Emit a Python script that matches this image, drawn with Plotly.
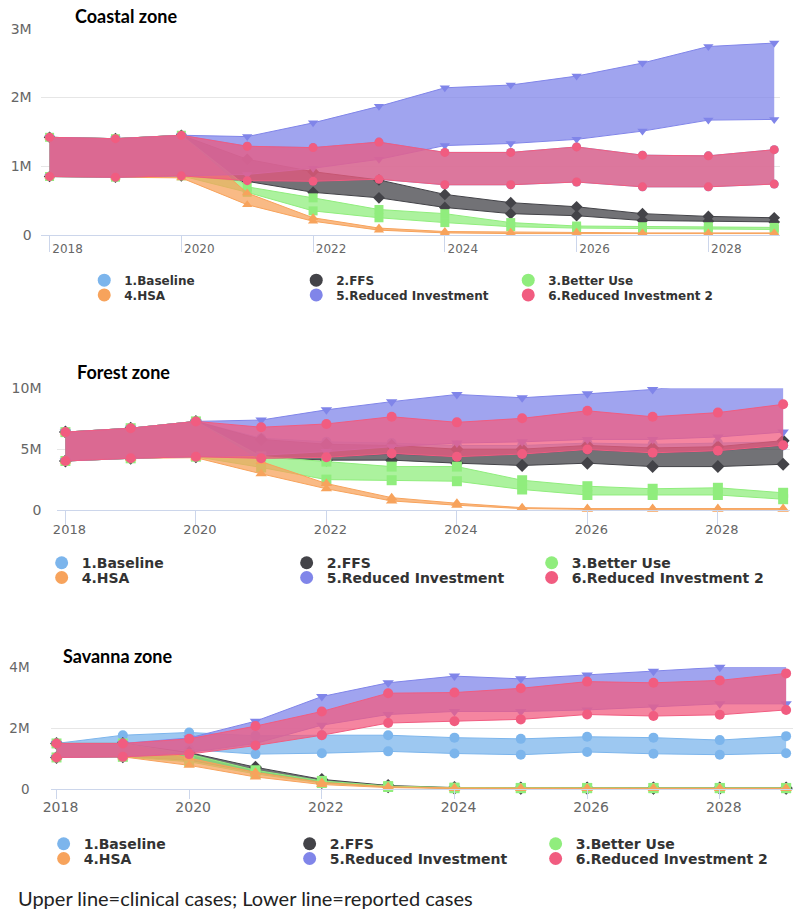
import plotly.graph_objects as go

# ---------------- data (values in millions of cases) ----------------
years = list(range(2018, 2030))
scenarios = ["1.Baseline", "2.FFS", "3.Better Use", "4.HSA",
             "5.Reduced Investment", "6.Reduced Investment 2"]
colors = ["#7cb5ec", "#434348", "#90ed7d", "#f7a35c", "#8085e9", "#f15c80"]
symbols = ["circle", "diamond", "square", "triangle-up", "triangle-down", "circle"]
zone_titles = ["Coastal zone", "Forest zone", "Savanna zone"]
x_tick_years = [2018, 2020, 2022, 2024, 2026, 2028]
x_tick_labels = ["2018", "2020", "2022", "2024", "2026", "2028"]
footer_text = "Upper line=clinical cases; Lower line=reported cases"

# Coastal zone
coastal_baseline_upper = [1.42, 1.40, 1.45, 1.29, 1.27, 1.35, 1.20, 1.20, 1.28, 1.16, 1.15, 1.24]
coastal_baseline_lower = [0.85, 0.84, 0.86, 0.79, 0.78, 0.81, 0.73, 0.73, 0.77, 0.70, 0.70, 0.74]
coastal_ffs_upper = [1.42, 1.40, 1.45, 1.10, 0.92, 0.80, 0.59, 0.47, 0.41, 0.31, 0.27, 0.25]
coastal_ffs_lower = [0.85, 0.84, 0.86, 0.78, 0.62, 0.54, 0.40, 0.31, 0.28, 0.21, 0.20, 0.19]
coastal_better_upper = [1.42, 1.40, 1.45, 0.70, 0.54, 0.37, 0.31, 0.18, 0.13, 0.12, 0.12, 0.11]
coastal_better_lower = [0.85, 0.84, 0.86, 0.62, 0.35, 0.25, 0.18, 0.12, 0.10, 0.09, 0.09, 0.08]
coastal_hsa_upper = [1.42, 1.40, 1.45, 0.61, 0.25, 0.10, 0.05, 0.04, 0.04, 0.03, 0.03, 0.03]
coastal_hsa_lower = [0.85, 0.84, 0.83, 0.44, 0.20, 0.07, 0.03, 0.02, 0.02, 0.02, 0.02, 0.02]
coastal_ri_upper = [1.42, 1.40, 1.45, 1.43, 1.63, 1.87, 2.14, 2.18, 2.31, 2.50, 2.74, 2.79]
coastal_ri_lower = [0.85, 0.84, 0.86, 0.88, 0.97, 1.10, 1.30, 1.33, 1.39, 1.51, 1.67, 1.68]
coastal_ri2_upper = [1.42, 1.40, 1.45, 1.29, 1.27, 1.35, 1.20, 1.20, 1.28, 1.16, 1.15, 1.24]
coastal_ri2_lower = [0.85, 0.84, 0.86, 0.79, 0.78, 0.81, 0.73, 0.73, 0.77, 0.70, 0.70, 0.74]

# Forest zone
forest_baseline_upper = [6.40, 6.72, 7.28, 5.90, 5.60, 5.50, 5.30, 5.30, 5.50, 5.40, 5.50, 5.60]
forest_baseline_lower = [4.03, 4.25, 4.38, 4.30, 4.35, 4.60, 4.40, 4.60, 4.95, 4.70, 4.85, 5.30]
forest_ffs_upper = [6.40, 6.72, 7.28, 5.80, 5.40, 5.30, 5.00, 5.00, 5.30, 5.10, 5.20, 5.70]
forest_ffs_lower = [4.03, 4.25, 4.38, 4.30, 4.10, 4.10, 3.85, 3.66, 3.85, 3.57, 3.57, 3.76]
forest_better_upper = [6.40, 6.72, 7.28, 4.40, 3.98, 3.57, 3.57, 2.45, 1.96, 1.75, 1.83, 1.42]
forest_better_lower = [4.03, 4.25, 4.38, 3.50, 2.50, 2.45, 2.37, 1.69, 1.24, 1.24, 1.24, 0.89]
forest_hsa_upper = [6.40, 6.72, 7.28, 3.98, 2.18, 1.02, 0.56, 0.20, 0.12, 0.12, 0.12, 0.12]
forest_hsa_lower = [4.03, 4.25, 4.30, 2.98, 1.75, 0.75, 0.40, 0.12, 0.06, 0.06, 0.06, 0.06]
forest_ri_upper = [6.40, 6.72, 7.28, 7.39, 8.23, 8.90, 9.49, 9.22, 9.54, 9.90, 10.48, 10.30]
forest_ri_lower = [4.03, 4.25, 4.38, 4.50, 4.80, 5.20, 5.50, 5.60, 5.80, 5.80, 6.00, 6.40]
forest_ri2_upper = [6.40, 6.72, 7.28, 6.80, 7.07, 7.66, 7.20, 7.53, 8.15, 7.66, 8.00, 8.68]
forest_ri2_lower = [4.03, 4.25, 4.38, 4.25, 4.33, 4.65, 4.38, 4.60, 4.97, 4.70, 4.87, 5.32]

# Savanna zone
savanna_baseline_upper = [1.50, 1.77, 1.86, 1.75, 1.77, 1.77, 1.69, 1.65, 1.72, 1.69, 1.61, 1.74]
savanna_baseline_lower = [1.04, 1.20, 1.30, 1.15, 1.18, 1.24, 1.17, 1.13, 1.22, 1.16, 1.13, 1.18]
savanna_ffs_upper = [1.50, 1.50, 1.20, 0.72, 0.32, 0.12, 0.05, 0.04, 0.04, 0.04, 0.04, 0.04]
savanna_ffs_lower = [1.04, 1.06, 0.95, 0.55, 0.22, 0.08, 0.03, 0.03, 0.03, 0.03, 0.03, 0.03]
savanna_better_upper = [1.50, 1.50, 1.15, 0.62, 0.27, 0.10, 0.05, 0.04, 0.04, 0.04, 0.04, 0.04]
savanna_better_lower = [1.04, 1.06, 0.90, 0.50, 0.20, 0.07, 0.03, 0.03, 0.03, 0.03, 0.03, 0.03]
savanna_hsa_upper = [1.50, 1.50, 1.02, 0.55, 0.22, 0.08, 0.04, 0.03, 0.03, 0.03, 0.03, 0.03]
savanna_hsa_lower = [1.04, 1.06, 0.78, 0.40, 0.15, 0.05, 0.02, 0.02, 0.02, 0.02, 0.02, 0.02]
savanna_ri_upper = [1.50, 1.50, 1.68, 2.23, 3.04, 3.49, 3.71, 3.62, 3.75, 3.87, 4.00, 4.01]
savanna_ri_lower = [1.04, 1.06, 1.20, 1.50, 2.10, 2.45, 2.55, 2.55, 2.60, 2.70, 2.80, 2.80]
savanna_ri2_upper = [1.50, 1.50, 1.65, 2.07, 2.55, 3.15, 3.17, 3.31, 3.53, 3.49, 3.57, 3.80]
savanna_ri2_lower = [1.04, 1.06, 1.15, 1.43, 1.77, 2.17, 2.23, 2.29, 2.45, 2.40, 2.44, 2.60]

coastal = [(coastal_baseline_upper, coastal_baseline_lower), (coastal_ffs_upper, coastal_ffs_lower),
           (coastal_better_upper, coastal_better_lower), (coastal_hsa_upper, coastal_hsa_lower),
           (coastal_ri_upper, coastal_ri_lower), (coastal_ri2_upper, coastal_ri2_lower)]
forest = [(forest_baseline_upper, forest_baseline_lower), (forest_ffs_upper, forest_ffs_lower),
          (forest_better_upper, forest_better_lower), (forest_hsa_upper, forest_hsa_lower),
          (forest_ri_upper, forest_ri_lower), (forest_ri2_upper, forest_ri2_lower)]
savanna = [(savanna_baseline_upper, savanna_baseline_lower), (savanna_ffs_upper, savanna_ffs_lower),
           (savanna_better_upper, savanna_better_lower), (savanna_hsa_upper, savanna_hsa_lower),
           (savanna_ri_upper, savanna_ri_lower), (savanna_ri2_upper, savanna_ri2_lower)]
zones = [coastal, forest, savanna]

# ---------------- layout geometry (page pixels) ----------------
W, H = 797, 917


def fx(px):
    return min(max(px / W, 0.0), 1.0)


def fy(py):
    return min(max(1 - py / H, 0.0), 1.0)


panels = [
    dict(l=33, r=780, t=21, b=231, x0=42, x1=774, ymax=3e6, dtick=1e6, fs=12, yfs=14,
         ticklen=16, xstand=-13, shift=18, ystand=8, title_x=66, title_y=8, title_fs=18,
         leg_x=[93, 305, 517], leg_y=[277, 292], leg_fs=12, ms=9),
    dict(l=50, r=790, t=387, b=511, x0=58, x1=783, ymax=1e7, dtick=5e6, fs=13, yfs=14,
         ticklen=14, xstand=-7, shift=4, ystand=15, title_x=68, title_y=370, title_fs=18,
         leg_x=[50, 295, 539], leg_y=[565, 580], leg_fs=14, ms=10),
    dict(l=43, r=793, t=671, b=795, x0=49, x1=786, ymax=4e6, dtick=2e6, fs=14, yfs=13.5,
         ticklen=9, xstand=-4, shift=4, ystand=20, title_x=54, title_y=659, title_fs=18,
         leg_x=[52, 298, 541], leg_y=[851, 866], leg_fs=14, ms=10),
]


def rgba(h, a):
    h = h.lstrip("#")
    return "rgba(%d,%d,%d,%s)" % (int(h[0:2], 16), int(h[2:4], 16), int(h[4:6], 16), a)


fig = go.Figure()
layout = dict(width=W, height=H, margin=dict(l=0, r=0, t=0, b=0),
              paper_bgcolor="white", plot_bgcolor="white", showlegend=True,
              annotations=[])

legend_idx = 0
for p, (zone, P) in enumerate(zip(zones, panels)):
    ax = "" if p == 0 else str(p + 1)
    xref, yref = "x" + ax, "y" + ax
    lg_names = []
    for r in range(2):
        legend_idx += 1
        lg_names.append("legend" if legend_idx == 1 else "legend%d" % legend_idx)
    for i, (upper, lower) in enumerate(zone):
        lg = lg_names[0] if i < 3 else lg_names[1]
        fig.add_trace(go.Scatter(x=[None], y=[None], mode="markers", name=scenarios[i],
                                 marker=dict(symbol="circle", size=13, color=colors[i]),
                                 legend=lg, showlegend=True, xaxis=xref, yaxis=yref,
                                 hoverinfo="skip"))
        fig.add_trace(go.Scatter(x=years, y=[v * 1e6 for v in lower], mode="lines+markers",
                                 line=dict(color=colors[i], width=1),
                                 marker=dict(symbol=symbols[i], size=P["ms"], color=colors[i]),
                                 showlegend=False, xaxis=xref, yaxis=yref, cliponaxis=False,
                                 name=scenarios[i]))
        fig.add_trace(go.Scatter(x=years, y=[v * 1e6 for v in upper], mode="lines+markers",
                                 line=dict(color=colors[i], width=1),
                                 marker=dict(symbol=symbols[i], size=P["ms"], color=colors[i]),
                                 fill="tonexty", fillcolor=rgba(colors[i], 0.75),
                                 showlegend=False, xaxis=xref, yaxis=yref, cliponaxis=False,
                                 name=scenarios[i]))
    ppy = (P["x1"] - P["x0"]) / 11.0
    xr = [2018 - (P["x0"] - P["l"]) / ppy, 2029 + (P["r"] - P["x1"]) / ppy]
    layout["xaxis" + ax] = dict(
        domain=[fx(P["l"]), fx(P["r"])], range=xr, anchor=yref,
        tickvals=x_tick_years, ticktext=x_tick_labels,
        ticks="outside", ticklen=P["ticklen"], tickcolor="#ccd6eb", tickwidth=1,
        showline=True, linecolor="#ccd6eb", linewidth=1, showgrid=False, zeroline=False,
        tickfont=dict(family="DejaVu Sans", size=P["fs"], color="#666666"),
        ticklabelshift=P["shift"], ticklabelstandoff=P["xstand"])
    layout["yaxis" + ax] = dict(
        domain=[fy(P["b"]), fy(P["t"])], range=[0, P["ymax"]], anchor=xref,
        dtick=P["dtick"], tickformat="~s", showgrid=True, gridcolor="#e6e6e6",
        gridwidth=1, zeroline=False, showline=False, ticks="",
        tickfont=dict(family="DejaVu Sans", size=P["yfs"], color="#666666"),
        ticklabelstandoff=P["ystand"])
    for r in range(2):
        layout[lg_names[r]] = dict(
            orientation="h", x=fx(P["leg_x"][0] - 16), xanchor="left",
            y=fy(P["leg_y"][r]), yanchor="middle", bgcolor="rgba(0,0,0,0)",
            entrywidth=(P["leg_x"][1] - P["leg_x"][0]) - 45, entrywidthmode="pixels",
            itemsizing="trace", itemclick=False, traceorder="normal",
            font=dict(family="DejaVu Sans", size=P["leg_fs"], color="#333333", weight=700))
    layout["annotations"].append(dict(
        text=zone_titles[p], xref="paper", yref="paper", x=fx(P["title_x"]),
        y=fy(P["title_y"]), xanchor="left", yanchor="middle", showarrow=False,
        font=dict(family="Lato", size=P["title_fs"], color="black", weight=700)))

layout["annotations"].append(dict(
    text=footer_text, xref="paper", yref="paper", x=fx(8), y=fy(906),
    xanchor="left", yanchor="middle", showarrow=False,
    font=dict(family="Lato", size=20, color="#222222")))

fig.update_layout(**layout)
fig.write_html("out.html", config={"displayModeBar": False},
               post_script="document.body.style.margin='0px';"
                           "document.documentElement.style.overflow='hidden';")
